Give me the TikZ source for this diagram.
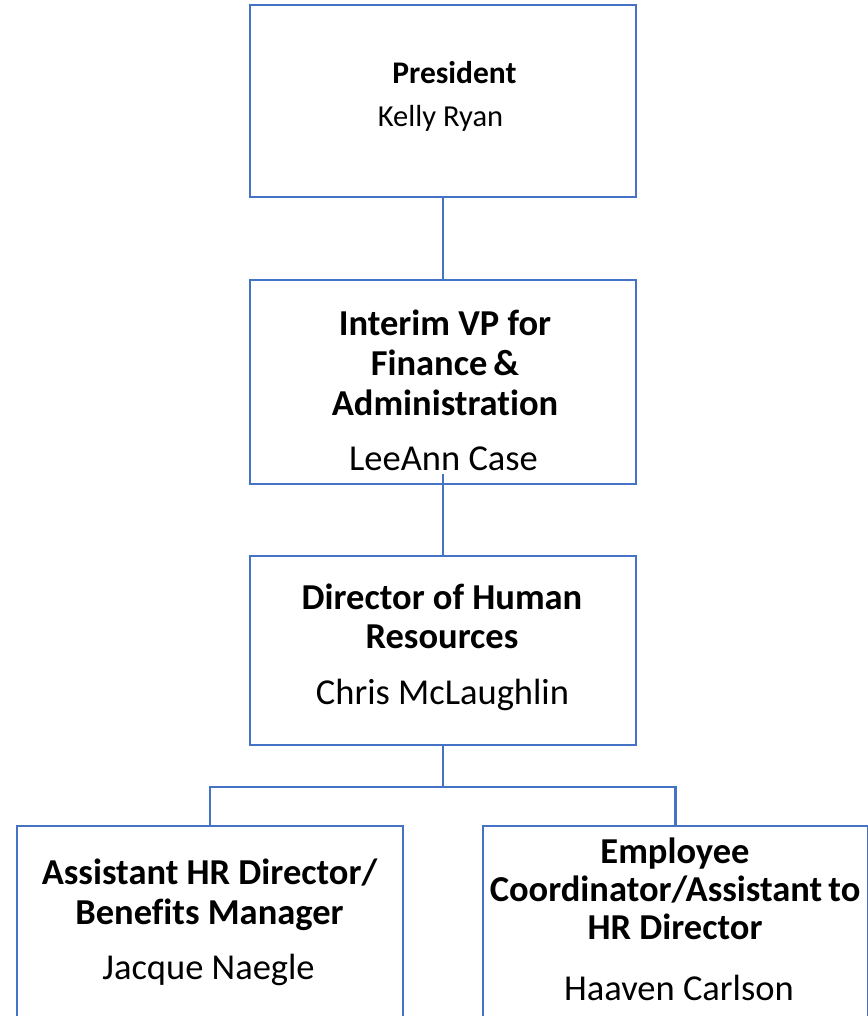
\documentclass[tikz,border=0pt]{standalone}
\usepackage{fontspec}
\setmainfont{Carlito}[Ligatures=NoCommon]
\definecolor{boxblue}{HTML}{4472C4}

\begin{document}
\begin{tikzpicture}[x=1pt, y=-1pt]
\tikzset{orgbox/.style={draw=boxblue, line width=2.4pt, minimum width=386pt, inner sep=0pt},
  headtxt/.style={font=\fontsize{36.5}{40}\selectfont\bfseries, text width=420pt, align=flush center, anchor=base, inner sep=0pt},
  nametxt/.style={font=\fontsize{36.5}{40}\selectfont, anchor=base, inner sep=0pt},
  link/.style={draw=boxblue, line width=2.4pt}}
\useasboundingbox (0,0) rectangle (867,1016);
% boxes
\node[orgbox, minimum height=192pt] (B1) at (443,101) {};
\node[orgbox, minimum height=204pt] (B2) at (443,382) {};
\node[orgbox, minimum height=189pt] (B3) at (443,650.5) {};
\node[orgbox, minimum height=204pt] (B4) at (210,928) {};
\node[orgbox, minimum height=204pt, minimum width=385pt] (B5) at (675.5,928) {};
% texts
\node[headtxt, font=\fontsize{31.5}{34}\selectfont\bfseries] (H1) at (454.5,84) {President};
\node[nametxt, font=\fontsize{30.5}{34}\selectfont] (N1) at (440.5,127) {Kelly Ryan};
\node[headtxt] (H2) at (445,335) {Interim VP for\\Finance\,\&\\Administration};
\node[nametxt] (N2) at (443.5,470) {LeeAnn Case};
\node[headtxt, font=\fontsize{36.5}{39}\selectfont\bfseries] (H3) at (442,609) {Director of Human\\Resources};
\node[nametxt] (N3) at (442.5,704) {Chris McLaughlin};
\node[headtxt] (H4) at (209.5,884) {Assistant HR Director/\\Benefits Manager};
\node[nametxt] (N4) at (208.5,979) {Jacque Naegle};
\node[headtxt, font=\fontsize{36.5}{38}\selectfont\bfseries] (H5) at (675,863) {Employee\\Coordinator/Assistant\,to\\HR Director};
\node[nametxt] (N5) at (679,1000) {Haaven Carlson};
% connectors
\coordinate (bus) at (443,787);
\draw[link] (B1.south) -- (B2.north);
\draw[link] ([yshift=11pt]B2.south) -- (B3.north);
\draw[link] (B3.south) -- (bus);
\draw[link] (B4.north) |- (bus) -| (B5.north);
\end{tikzpicture}
\end{document}
